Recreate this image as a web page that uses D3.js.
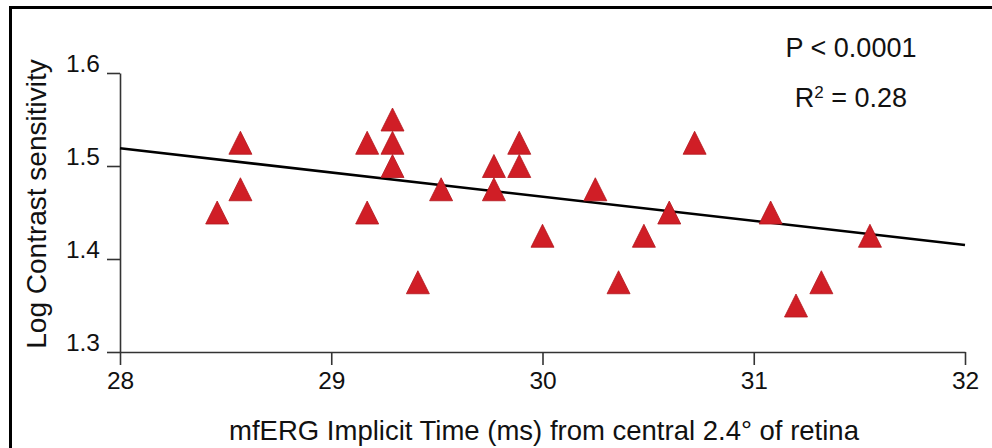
<!DOCTYPE html>
<html>
<head>
<meta charset="utf-8">
<script src="https://cdn.jsdelivr.net/npm/d3@7"></script>
<style>
  html, body { margin: 0; padding: 0; background: #fff; }
  svg { display: block; font-family: "Liberation Sans", Arial, sans-serif; }
</style>
</head>
<body>
<svg id="chart" width="992" height="448"></svg>
<script>
// ---- data ----
const implicitTime = [28.46, 28.57, 28.57, 29.17, 29.17, 29.29, 29.29, 29.29, 29.41, 29.52,
                      29.77, 29.77, 29.89, 29.89, 30.0, 30.25, 30.36, 30.48, 30.6, 30.72,
                      31.08, 31.2, 31.32, 31.55];
const logContrast  = [1.45, 1.525, 1.475, 1.525, 1.45, 1.55, 1.525, 1.5, 1.375, 1.475,
                      1.5, 1.475, 1.525, 1.5, 1.425, 1.475, 1.375, 1.425, 1.45, 1.525,
                      1.45, 1.35, 1.375, 1.425];
const fitX = [28, 32];
const fitY = [1.519, 1.415];
const xTicks = [28, 29, 30, 31, 32];
const yTicks = [1.3, 1.4, 1.5, 1.6];
const xTitle = "mfERG Implicit Time (ms) from central 2.4\u00B0 of retina";
const yTitle = "Log Contrast sensitivity";
const statP = "P < 0.0001";

const svg = d3.select("#chart");

// frame (top and left border visible in the reference)
svg.append("rect").attr("x", 9).attr("y", 6).attr("width", 983).attr("height", 3).attr("fill", "#000");
svg.append("rect").attr("x", 9).attr("y", 6).attr("width", 3).attr("height", 442).attr("fill", "#000");

const x = d3.scaleLinear().domain([28, 32]).range([120, 965]);
const y = d3.scaleLinear().domain([1.3, 1.6]).range([352, 73]);

// x axis
const xAxis = d3.axisBottom(x).tickValues(xTicks).tickFormat(d3.format("d")).tickSize(13).tickSizeOuter(0);
const gx = svg.append("g").attr("transform", `translate(0,${y(1.3)})`).call(xAxis);
gx.select(".domain").attr("stroke", "#333").attr("stroke-width", 1.6);
gx.selectAll(".tick line").attr("stroke", "#333").attr("stroke-width", 1.6);
gx.selectAll(".tick text").attr("font-size", 24.5).attr("fill", "#111").attr("dy", null).attr("y", 37);
gx.attr("font-family", null);

// y axis
const yAxis = d3.axisLeft(y).tickValues(yTicks).tickFormat(d3.format(".1f")).tickSize(13).tickSizeOuter(0);
const gy = svg.append("g").attr("transform", `translate(${x(28)},0)`).call(yAxis);
gy.select(".domain").attr("stroke", "#333").attr("stroke-width", 1.6);
gy.selectAll(".tick line").attr("stroke", "#333").attr("stroke-width", 1.6);
gy.selectAll(".tick text").attr("font-size", 24.5).attr("fill", "#111")
  .attr("x", -20).attr("dy", "-0.08em");
gy.attr("font-family", null);

// regression line
svg.append("line")
  .attr("x1", x(fitX[0])).attr("y1", y(fitY[0]))
  .attr("x2", x(fitX[1])).attr("y2", y(fitY[1]))
  .attr("stroke", "#000").attr("stroke-width", 2.6);

// triangles
const triW = 23, triH = 23;
function tri(cx, cy) {
  const p = d3.path();
  p.moveTo(cx, cy - triH / 2);
  p.lineTo(cx + triW / 2, cy + triH / 2);
  p.lineTo(cx - triW / 2, cy + triH / 2);
  p.closePath();
  return p.toString();
}
const pts = implicitTime.map((t, i) => ({ t, v: logContrast[i] }));
svg.append("g").selectAll("path").data(pts).join("path")
  .attr("d", d => tri(x(d.t), y(d.v)))
  .attr("fill", "#d01e26")
  .attr("stroke", "#b3161d")
  .attr("stroke-width", 0.8);

// titles
svg.append("text").attr("x", 544).attr("y", 440).attr("text-anchor", "middle")
  .attr("font-size", 27.5).attr("fill", "#111").text(xTitle);
svg.append("text").attr("transform", "translate(46,204) rotate(-90)").attr("text-anchor", "middle")
  .attr("font-size", 28).attr("fill", "#111").text(yTitle);

// stats
svg.append("text").attr("x", 851).attr("y", 57).attr("text-anchor", "middle")
  .attr("font-size", 27).attr("fill", "#111").text(statP);
const r2 = svg.append("text").attr("x", 851).attr("y", 107).attr("text-anchor", "middle")
  .attr("font-size", 27).attr("fill", "#111");
r2.append("tspan").text("R");
r2.append("tspan").attr("font-size", 17).attr("dy", -9).text("2");
r2.append("tspan").attr("dy", 9).text(" = 0.28");
</script>
</body>
</html>
